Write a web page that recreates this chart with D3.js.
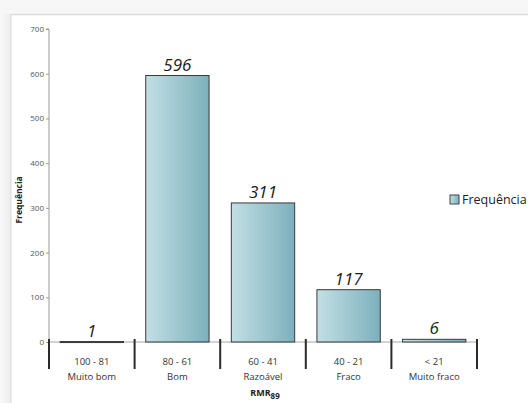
<!DOCTYPE html>
<html>
<head>
<meta charset="utf-8">
<script src="https://cdn.jsdelivr.net/npm/d3@7"></script>
<style>
  html, body { margin: 0; padding: 0; background: #f1f1f1; }
  svg { display: block; }
</style>
</head>
<body>
<svg id="chart" width="528" height="403"></svg>
<script>
// Frequency of RMR89 rock-mass classes
const ranges = ["100 - 81", "80 - 61", "60 - 41", "40 - 21", "< 21"];
const classes = ["Muito bom", "Bom", "Razoável", "Fraco", "Muito fraco"];
const frequencies = [1, 596, 311, 117, 6];
const yTicks = [0, 100, 200, 300, 400, 500, 600, 700];
const seriesName = "Frequência";

const svg = d3.select("#chart");
const W = 528, H = 403;

// page backdrop and white card
const defs = svg.append("defs");
const bg = defs.append("linearGradient").attr("id", "bgGrad").attr("x1", 0).attr("y1", 0).attr("x2", 0).attr("y2", 1);
bg.append("stop").attr("offset", "0%").attr("stop-color", "#f7f7f7");
bg.append("stop").attr("offset", "100%").attr("stop-color", "#eeeeee");
svg.append("rect").attr("width", W).attr("height", H).attr("fill", "url(#bgGrad)");

const side = defs.append("linearGradient").attr("id", "sideGrad").attr("x1", 0).attr("y1", 0).attr("x2", 1).attr("y2", 0);
side.append("stop").attr("offset", "0%").attr("stop-color", "#f8f8f8");
side.append("stop").attr("offset", "100%").attr("stop-color", "#ececec");
svg.append("rect").attr("x", 0).attr("y", 14).attr("width", 11).attr("height", H - 14).attr("fill", "url(#sideGrad)");

svg.append("rect").attr("x", 11).attr("y", 15).attr("width", W - 11).attr("height", H - 15).attr("fill", "#ffffff");
svg.append("line").attr("x1", 11).attr("x2", W).attr("y1", 14.5).attr("y2", 14.5).attr("stroke", "#dcdcdc").attr("stroke-width", 1.5);
svg.append("line").attr("x1", 11).attr("x2", 11).attr("y1", 14).attr("y2", H).attr("stroke", "#d8d8d8").attr("stroke-width", 1);

// bar gradient
const grad = defs.append("linearGradient").attr("id", "barGrad").attr("x1", 0).attr("y1", 0).attr("x2", 1).attr("y2", 0);
grad.append("stop").attr("offset", "0%").attr("stop-color", "#c3dfe5");
grad.append("stop").attr("offset", "100%").attr("stop-color", "#7cb0bc");

// scales
const x0 = 49, x1 = 477, yBase = 342, yTop = 29;
const x = d3.scaleBand().domain(ranges).range([x0, x1]).paddingInner(0).paddingOuter(0);
const y = d3.scaleLinear().domain([0, 700]).range([yBase, yTop]);
const barFrac = 0.74;

// y axis
const yAxis = d3.axisLeft(y).tickValues(yTicks).tickSize(3).tickPadding(2);
const gy = svg.append("g").attr("transform", `translate(${x0},0)`).call(yAxis);
gy.select(".domain").attr("stroke", "#9a9a9a").attr("d", `M-3,${yTop}H0V${yBase}`);
gy.selectAll(".tick line").attr("stroke", "#9a9a9a");
gy.selectAll(".tick text").attr("fill", "#555").attr("font-size", 8).attr("font-family", "'Open Sans', sans-serif");

// baseline
svg.append("line").attr("x1", x0).attr("x2", x1).attr("y1", yBase).attr("y2", yBase).attr("stroke", "#a8a8a8").attr("stroke-width", 1.2);

// bars
const bw = x.bandwidth() * barFrac;
svg.append("g").selectAll("rect").data(frequencies).join("rect")
  .attr("x", (d, i) => x(ranges[i]) + (x.bandwidth() - bw) / 2)
  .attr("y", d => y(d))
  .attr("width", bw)
  .attr("height", d => Math.max(1, yBase - y(d)))
  .attr("fill", "url(#barGrad)")
  .attr("stroke", "#3a3a3a")
  .attr("stroke-width", 1);

// value labels
svg.append("g").selectAll("text").data(frequencies).join("text")
  .attr("x", (d, i) => x(ranges[i]) + x.bandwidth() / 2)
  .attr("y", d => y(d) - 5)
  .attr("text-anchor", "middle")
  .attr("font-family", "'Open Sans', sans-serif")
  .attr("font-style", "italic")
  .attr("font-weight", 400)
  .attr("font-size", 17)
  .attr("fill", "#1a1a1a")
  .text(d => d);

// category separators
const seps = ranges.map(r => x(r)).concat([x1]);
svg.append("g").selectAll("line").data(seps).join("line")
  .attr("x1", d => d).attr("x2", d => d)
  .attr("y1", 339).attr("y2", 369)
  .attr("stroke", "#2a2a2a").attr("stroke-width", 2);

// category labels (two lines)
const cat = svg.append("g").attr("font-family", "'Open Sans', sans-serif").attr("font-size", 9.5).attr("fill", "#333").attr("text-anchor", "middle");
cat.selectAll("text.range").data(ranges).join("text").attr("class", "range")
  .attr("x", d => x(d) + x.bandwidth() / 2).attr("y", 365).text(d => d);
cat.selectAll("text.cls").data(classes).join("text").attr("class", "cls")
  .attr("x", (d, i) => x(ranges[i]) + x.bandwidth() / 2).attr("y", 380).text(d => d);

// axis titles
const xt = svg.append("text").attr("x", 265).attr("y", 396).attr("text-anchor", "middle")
  .attr("font-family", "'Open Sans', sans-serif").attr("font-weight", "bold").attr("font-size", 9).attr("fill", "#222");
xt.append("tspan").text("RMR");
xt.append("tspan").attr("dy", 2.5).attr("font-size", 8).text("89");

svg.append("text").attr("transform", "translate(22,200) rotate(-90)").attr("text-anchor", "middle")
  .attr("font-family", "'Open Sans', sans-serif").attr("font-weight", "bold").attr("font-size", 8.5).attr("fill", "#222")
  .text("Frequência");

// legend
const lg = svg.append("g").attr("transform", "translate(450,195)");
lg.append("rect").attr("x", 0).attr("y", 0).attr("width", 9).attr("height", 9).attr("fill", "url(#barGrad)").attr("stroke", "#444").attr("stroke-width", 1);
lg.append("text").attr("x", 12).attr("y", 9).attr("font-family", "'Open Sans', sans-serif").attr("font-size", 12.5).attr("fill", "#222").text(seriesName);
</script>
</body>
</html>
